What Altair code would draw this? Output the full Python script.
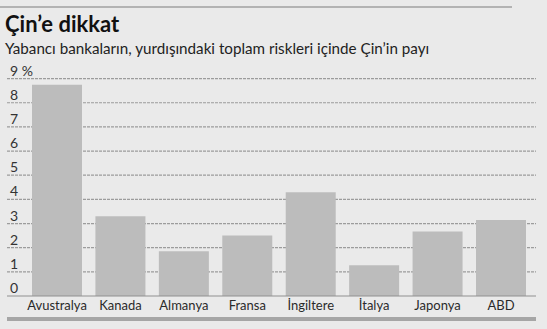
import altair as alt
import pandas as pd

countries = ["Avustralya", "Kanada", "Almanya", "Fransa", "İngiltere", "İtalya", "Japonya", "ABD"]
shares = [8.75, 3.3, 1.85, 2.5, 4.3, 1.27, 2.67, 3.15]
tick_values = [0, 1, 2, 3, 4, 5, 6, 7, 8, 9]
tick_labels = ["0", "1", "2", "3", "4", "5", "6", "7", "8", "9  %"]
title_text = "Çin’e dikkat"
subtitle_text = "Yabancı bankaların, yurdışındaki toplam riskleri içinde Çin’in payı"

bars_df = pd.DataFrame({"ulke": countries, "pay": shares})
ticks_df = pd.DataFrame({"v": tick_values, "lab": tick_labels})
grid_df = ticks_df[ticks_df["v"] > 0]
base_df = ticks_df[ticks_df["v"] == 0]

W, H = 547, 329
xs = alt.Scale(domain=countries, range=[32, 526], paddingInner=0.2117, paddingOuter=0)
ys = alt.Scale(domain=[0, 9], range=[296, 78.6], nice=False, zero=True)

grid = alt.Chart(grid_df).mark_rule(color="#9c9c9c", strokeWidth=1.2, strokeDash=[3, 1]).encode(
    y=alt.Y("v:Q", scale=ys, axis=None),
    x=alt.value(7), x2=alt.value(536),
)
ylabels = alt.Chart(ticks_df).mark_text(
    align="left", baseline="alphabetic", dy=-3, fontSize=14, font="Lato", color="#333333"
).encode(
    y=alt.Y("v:Q", scale=ys, axis=None),
    x=alt.value(10),
    text="lab:N",
)
bars = alt.Chart(bars_df).mark_bar(color="#bcbcbc").encode(
    x=alt.X("ulke:N", scale=xs, axis=None, sort=countries),
    y=alt.Y("pay:Q", scale=ys, axis=None),
)
baseline = alt.Chart(base_df).mark_rule(color="#8f8f8f", strokeWidth=1.2).encode(
    y=alt.Y("v:Q", scale=ys, axis=None),
    x=alt.value(7), x2=alt.value(536),
)
xlabels = alt.Chart(bars_df).mark_text(
    fontSize=13, font="Lato", color="#2a2a2a", baseline="middle"
).encode(
    x=alt.X("ulke:N", scale=xs, axis=None, sort=countries),
    y=alt.value(306),
    text="ulke:N",
)
bottom_bar = alt.Chart(bars_df.head(1)).mark_rule(color="#a6a6a6", strokeWidth=4).encode(
    y=alt.value(319), x=alt.value(7), x2=alt.value(536),
)
top_line = alt.Chart(bars_df.head(1)).mark_rule(color="#a0a0a0", strokeWidth=1.5).encode(
    y=alt.value(7), x=alt.value(0), x2=alt.value(512),
)
title = alt.Chart(pd.DataFrame({"t": [title_text]})).mark_text(
    align="left", baseline="alphabetic", fontSize=22, font="Lato", fontWeight="bold", color="#111111"
).encode(x=alt.value(5), y=alt.value(32), text="t:N")
subtitle = alt.Chart(pd.DataFrame({"t": [subtitle_text]})).mark_text(
    align="left", baseline="alphabetic", fontSize=15.2, font="Lato", color="#222222"
).encode(x=alt.value(5), y=alt.value(54), text="t:N")

chart = alt.layer(top_line, grid, bars, baseline, ylabels, xlabels, bottom_bar, title, subtitle).properties(
    width=W, height=H, autosize=alt.AutoSizeParams(type="none"), padding=0, background="#eaeaea"
).configure_view(stroke=None)

chart.save("out.html", embed_options={"renderer": "svg", "actions": False})
